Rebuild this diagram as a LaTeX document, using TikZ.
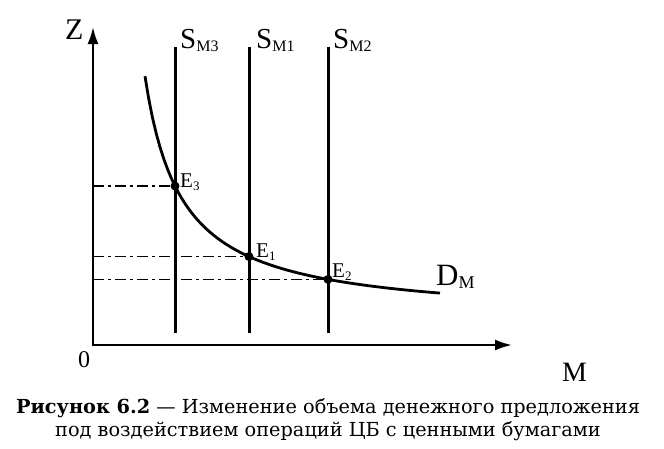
\documentclass[tikz,border=0pt]{standalone}
\usepackage{fontspec}
\setmainfont{Liberation Serif}
\newfontfamily\capfont{DejaVu Serif}
\usetikzlibrary{arrows.meta}
\newcommand{\lsub}[2]{\textsubscript{\fontsize{#1}{#1}\selectfont #2}}
\begin{document}
\begin{tikzpicture}[x=1pt,y=-1pt,
  axis/.style={line width=2.2pt,-{Latex[length=17pt,width=11pt]}},
  supply/.style={line width=3pt},
  demand/.style={line width=2.8pt},
  guide/.style={line width=1.7pt,dash pattern=on 11pt off 4pt on 3pt off 4pt},
  pt/.style={circle,fill=black,inner sep=0pt,minimum size=9pt},
  lab/.style={inner sep=0pt,anchor=base west,font=\fontsize{29}{31}\selectfont},
  elab/.style={inner sep=0pt,anchor=base west,font=\fontsize{21}{23}\selectfont},
  captext/.style={inner sep=0pt,anchor=base,font=\capfont\fontsize{19.3}{23}\selectfont}]
\useasboundingbox (0,0) rectangle (664,448);
\coordinate (O) at (93,345);
\coordinate (ztip) at (93,27);
\coordinate (mtip) at (512,345);
\draw[axis] (93,346) -- (ztip);
\draw[axis] (92,345) -- (mtip);
% supply lines
\coordinate (s3t) at (175,47); \coordinate (s3b) at (175,333);
\coordinate (s1t) at (249,47); \coordinate (s1b) at (249,333);
\coordinate (s2t) at (328,47); \coordinate (s2b) at (328,333);
\draw[supply] (s3t) -- (s3b);
\draw[supply] (s1t) -- (s1b);
\draw[supply] (s2t) -- (s2b);
% demand curve
\draw[demand] plot[domain=145:440,samples=80] (\x,{320-8922/(\x-108.4)});
% equilibrium points
\node[pt] (e3) at (175,{320-8922/(175-108.4)}) {};
\node[pt] (e1) at (249,{320-8922/(249-108.4)}) {};
\node[pt] (e2) at (328,{320-8922/(328-108.4)}) {};
\coordinate (g3) at (93,{320-8922/(175-108.4)});
\coordinate (g1) at (93,{320-8922/(249-108.4)});
\coordinate (g2) at (93,{320-8922/(328-108.4)});
\draw[guide] (g3) -- (e3.center);
\draw[guide] (g1) -- (e1.center);
\draw[guide] (g2) -- (e2.center);
% labels
\node[lab,font=\fontsize{30}{32}\selectfont] (zl) at (65,39) {Z};
\node[lab] (ls3) at (180,48) {S\lsub{16}{M3}};
\node[lab] (ls1) at (256,48) {S\lsub{16}{M1}};
\node[lab] (ls2) at (333,48) {S\lsub{16}{M2}};
\node[elab] (le3) at (180,187) {E\lsub{13}{3}};
\node[elab] (le1) at (256,257) {E\lsub{13}{1}};
\node[elab] (le2) at (332,277) {E\lsub{13}{2}};
\node[lab,font=\fontsize{31}{33}\selectfont] (ld) at (436,285) {D\lsub{18}{M}};
\node[lab,font=\fontsize{24}{26}\selectfont] (l0) at (78,367) {0};
\node[lab,font=\fontsize{28}{30}\selectfont] (lm) at (562,381) {M};
\node[captext] (c1) at (328,413) {\textbf{Рисунок 6.2} — Изменение объема денежного предложения};
\node[captext] (c2) at (328,436) {под воздействием операций ЦБ с ценными бумагами};
\end{tikzpicture}
\end{document}
